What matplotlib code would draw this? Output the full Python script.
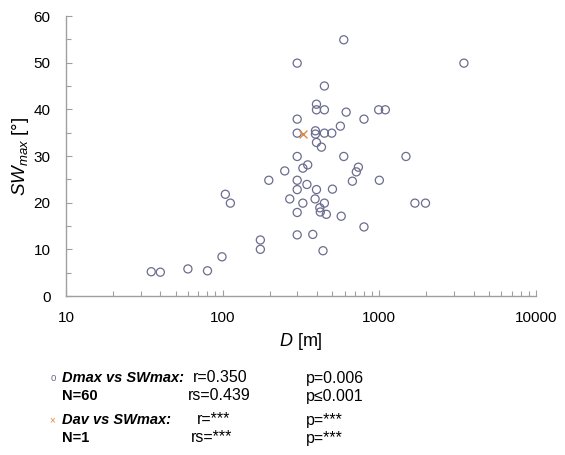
import matplotlib
matplotlib.use("Agg")
import matplotlib.pyplot as plt
from matplotlib.ticker import MultipleLocator, LogLocator, NullFormatter, FixedLocator, FixedFormatter

plt.rcParams['font.family'] = ['Liberation Sans', 'DejaVu Sans']
plt.rcParams['mathtext.fontset'] = 'custom'
plt.rcParams['mathtext.it'] = 'Liberation Sans:italic'
plt.rcParams['mathtext.rm'] = 'Liberation Sans'
plt.rcParams['mathtext.bf'] = 'Liberation Sans:bold'

# Dmax vs SWmax (N=60)
dmax = [35, 40, 60, 80, 99, 104, 112, 174, 174, 197, 249, 268, 299, 299, 299,
        299, 299, 325, 325, 349, 345, 299, 299, 391, 391, 446, 497, 564, 798, 397,
        427, 593, 735, 713, 673, 1000, 397, 502, 389, 446, 417, 420, 459, 571, 798,
        376, 437, 593, 299, 446, 397, 397, 446, 614, 990, 1092, 1479, 1687, 1971, 3467]
swmax = [5.2, 5.1, 5.8, 5.4, 8.4, 21.8, 19.9, 12.0, 10.0, 24.8, 26.8, 20.8, 29.9, 24.8, 22.8,
         17.9, 13.1, 27.4, 19.9, 28.1, 23.9, 37.9, 34.9, 35.4, 34.7, 34.9, 34.9, 36.4, 37.9, 32.9,
         31.9, 29.9, 27.6, 26.6, 24.6, 24.8, 22.8, 22.9, 20.8, 19.9, 18.9, 18.0, 17.5, 17.1, 14.8,
         13.2, 9.7, 54.9, 49.9, 45.0, 41.1, 39.9, 39.9, 39.4, 39.9, 39.9, 29.9, 19.9, 19.9, 49.9]

# Dav vs SWmax (N=1)
dav = [328]
swmax_av = [34.7]

xticks = [10, 100, 1000, 10000]
xtick_labels = ['10', '100', '1000', '10000']
yticks = [0, 10, 20, 30, 40, 50, 60]

circle_col = '#6b6d8f'
cross_col = '#e0873a'
axis_col = '#a0a0a0'

fig = plt.figure(figsize=(5.65, 4.55), dpi=100)
ax = fig.add_axes([66/565, 1-296/455, (536-66)/565, (296-16)/455])

ax.scatter(dmax, swmax, s=34, facecolors='none', edgecolors=circle_col, linewidths=0.9, zorder=3)
ax.scatter(dav, swmax_av, s=32, marker='x', color=cross_col, linewidths=1.0, zorder=4)

ax.set_xscale('log')
ax.set_xlim(10, 10000)
ax.set_ylim(0, 60)
ax.xaxis.set_major_locator(FixedLocator(xticks))
ax.xaxis.set_major_formatter(FixedFormatter(xtick_labels))
ax.xaxis.set_minor_locator(LogLocator(base=10, subs=range(2, 10)))
ax.xaxis.set_minor_formatter(NullFormatter())
ax.yaxis.set_major_locator(FixedLocator(yticks))
ax.yaxis.set_minor_locator(MultipleLocator(5))

for s in ['top', 'right']:
    ax.spines[s].set_visible(False)
for s in ['left', 'bottom']:
    ax.spines[s].set_color(axis_col)
    ax.spines[s].set_linewidth(1.0)

ax.tick_params(axis='both', which='both', direction='in', colors=axis_col, labelcolor='black',
               labelsize=11, pad=11)
ax.tick_params(axis='both', which='major', length=4, width=0.8)
ax.tick_params(axis='both', which='minor', length=3.5, width=0.8)
ax.tick_params(axis='x', which='major', pad=11)

ax.set_xlabel(r'$D$ [m]', fontsize=13, labelpad=4)
ax.set_ylabel(r'$SW_{max}$ [°]', fontsize=13.5, labelpad=2)

# Statistics block below the chart
fb = 10.5
fs = 11.5
fig.text(53/565, 1-378/455, 'o', fontsize=7, color=circle_col, ha='center', va='center')
fig.text(62/565, 1-378/455, 'Dmax vs SWmax:', fontsize=fb, fontweight='bold', style='italic', va='center')
fig.text(193/565, 1-378/455, 'r=0.350', fontsize=fs, va='center')
fig.text(306/565, 1-378/455, 'p=0.006', fontsize=fs, va='center')
fig.text(62/565, 1-396/455, 'N=60', fontsize=fb, fontweight='bold', va='center')
fig.text(188/565, 1-396/455, 'rs=0.439', fontsize=fs, va='center')
fig.text(306/565, 1-396/455, 'p≤0.001', fontsize=fs, va='center')

fig.text(52/565, 1-420/455, '×', fontsize=7, color=cross_col, ha='center', va='center')
fig.text(62/565, 1-420/455, 'Dav vs SWmax:', fontsize=fb, fontweight='bold', style='italic', va='center')
fig.text(197/565, 1-420/455, 'r=***', fontsize=fs, va='center')
fig.text(306/565, 1-420/455, 'p=***', fontsize=fs, va='center')
fig.text(62/565, 1-438/455, 'N=1', fontsize=fb, fontweight='bold', va='center')
fig.text(191/565, 1-438/455, 'rs=***', fontsize=fs, va='center')
fig.text(306/565, 1-438/455, 'p=***', fontsize=fs, va='center')

fig.savefig('out.png', dpi=100, facecolor='white')
